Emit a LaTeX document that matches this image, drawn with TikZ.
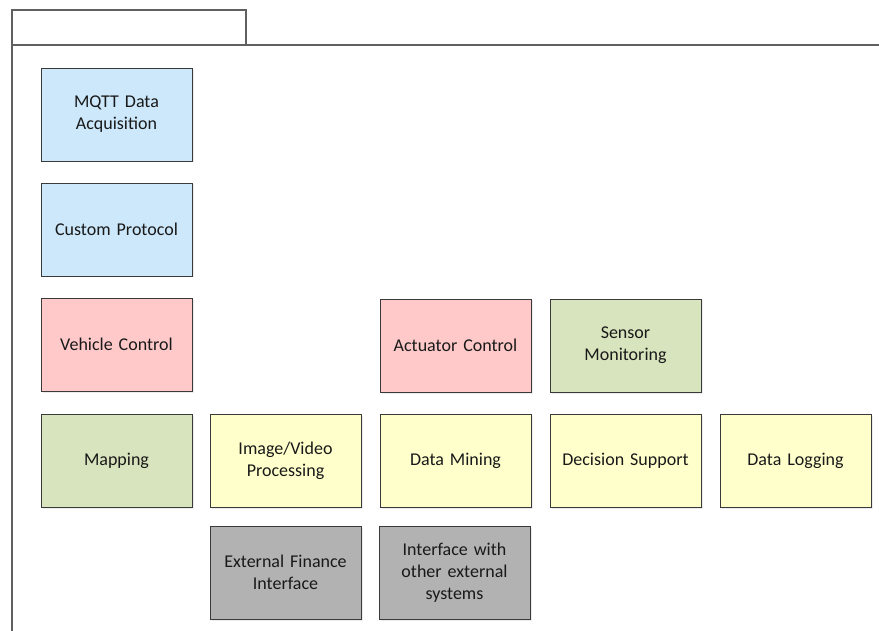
\documentclass[tikz,border=0pt]{standalone}
\usepackage{fontspec}
\setmainfont{Carlito}
\usetikzlibrary{shadows}
\definecolor{frameline}{HTML}{606060}
\definecolor{boxline}{HTML}{3A3A3A}
\definecolor{fillblue}{HTML}{CCE8FA}
\definecolor{fillpink}{HTML}{FFC9C9}
\definecolor{fillgreen}{HTML}{D7E4BD}
\definecolor{fillyellow}{HTML}{FFFFCC}
\definecolor{fillgray}{HTML}{B2B2B2}
\begin{document}
\begin{tikzpicture}[x=1pt,y=-1pt,
  block/.style={draw=boxline, line width=0.9pt, rectangle,
    minimum width=151pt, minimum height=93pt, inner sep=2pt,
    text width=145pt, align=center, font=\fontsize{18}{21.8}\selectfont,
    text=black!90,
    drop shadow={shadow xshift=1.5pt, shadow yshift=-1.5pt, fill=black!12, opacity=0.6}},
  blue/.style={block, fill=fillblue},
  pink/.style={block, fill=fillpink},
  green/.style={block, fill=fillgreen},
  yellow/.style={block, fill=fillyellow},
  grey/.style={block, fill=fillgray},
  frame/.style={draw=frameline, line width=1.3pt}]
\useasboundingbox (0,0) rectangle (879,631);
% frame with title tab
\draw[frame] (12,45) rectangle (246,10);
\draw[frame] (12,45) -- (879,45);
\draw[frame] (12,45) -- (12,631);
% column 1
\node[blue]   (mqtt)    at (116.5,114.5) {MQTT Data\\Acquisition};
\node[blue]   (custom)  at (116.5,229.5) {Custom Protocol};
\node[pink]   (vehicle) at (116.5,344.5) {Vehicle Control};
\node[green]  (mapping) at (116.5,460.5) {Mapping};
% row 3
\node[pink]   (actuator) at (455.5,345.5) {Actuator Control};
\node[green]  (sensor)   at (625.5,345.5) {Sensor\\Monitoring};
% row 4
\node[yellow] (image)    at (285.5,461) {Image/Video\\Processing};
\node[yellow] (mining)   at (455.5,461) {Data Mining};
\node[yellow] (decision) at (625.5,461) {Decision Support};
\node[yellow] (logging)  at (795.5,461) {Data Logging};
% row 5
\node[grey]   (finance)  at (285.5,572.5) {External Finance\\Interface};
\node[grey]   (external) at (454.5,572.5) {Interface with\\other external\\systems};
\end{tikzpicture}
\end{document}
